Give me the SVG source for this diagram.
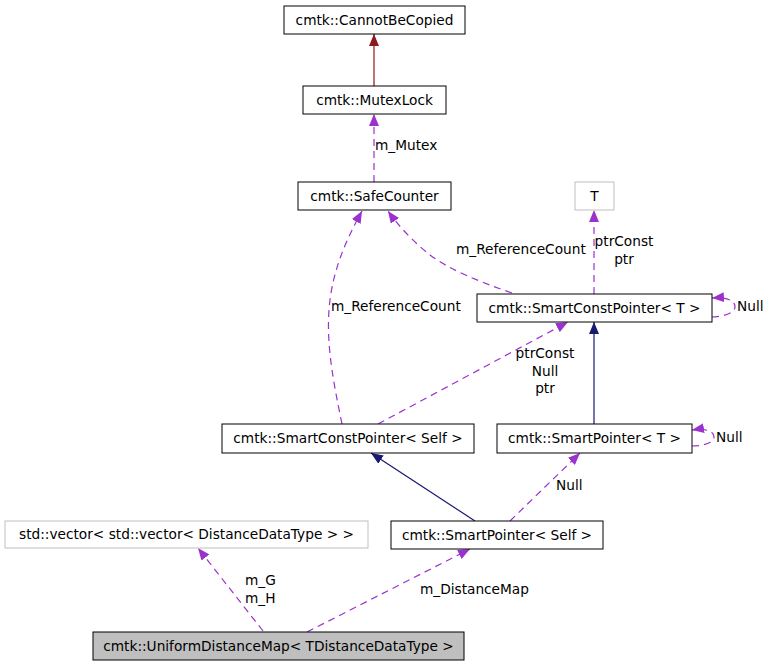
<svg xmlns="http://www.w3.org/2000/svg" width="767" height="667" viewBox="0 0 767 667">
<defs>
<style>
.box{fill:#ffffff;stroke:#000000;stroke-width:1}
.gbox{fill:#ffffff;stroke:#bfbfbf;stroke-width:1}
.hbox{fill:#bfbfbf;stroke:#000000;stroke-width:1}
text{font-family:"DejaVu Sans","Liberation Sans",sans-serif;font-size:13.7px;fill:#000000}
.c{text-anchor:middle}
.use{fill:none;stroke:#9a32cd;stroke-width:1.2;stroke-dasharray:7,5}
.pub{fill:none;stroke:#191970;stroke-width:1.2}
.priv{fill:none;stroke:#8b1a1a;stroke-width:1.2}
</style>
<marker id="aU" markerUnits="userSpaceOnUse" markerWidth="12" markerHeight="10" refX="12" refY="5" orient="auto"><path d="M0,0 L12,5 L0,10 z" fill="#9a32cd"/></marker>
<marker id="aB" markerUnits="userSpaceOnUse" markerWidth="12" markerHeight="10" refX="12" refY="5" orient="auto"><path d="M0,0 L12,5 L0,10 z" fill="#191970"/></marker>
<marker id="aR" markerUnits="userSpaceOnUse" markerWidth="12" markerHeight="10" refX="12" refY="5" orient="auto"><path d="M0,0 L12,5 L0,10 z" fill="#8b1a1a"/></marker>
</defs>
<rect width="767" height="667" fill="#ffffff"/>
<g id="edges">
<path class="priv" d="M374,86 L374,34" marker-end="url(#aR)"/>
<path class="use" d="M374,182 L374,114" marker-end="url(#aU)"/>
<text x="375" y="150">m_Mutex</text>
<path class="use" d="M342,424 C333,380 325,340 330,300 C334,268 346,240 362,211" marker-end="url(#aU)"/>
<text x="331" y="311">m_ReferenceCount</text>
<path class="use" d="M512,293 C480,282 450,270 430,255 C415,243 400,228 388,211" marker-end="url(#aU)"/>
<text x="456" y="254">m_ReferenceCount</text>
<path class="use" d="M594,294 L594,210" marker-end="url(#aU)"/>
<text class="c" x="624" y="246">ptrConst</text>
<text class="c" x="624" y="264">ptr</text>
<path class="use" d="M712,317 C722,317 735,313 735,307 C735,300 726,297 712,298" marker-end="url(#aU)"/>
<text x="737" y="311">Null</text>
<path class="use" d="M378,424 L568,322" marker-end="url(#aU)"/>
<text class="c" x="545" y="358">ptrConst</text>
<text class="c" x="545" y="376">Null</text>
<text class="c" x="545" y="393">ptr</text>
<path class="pub" d="M594,424 L594,322" marker-end="url(#aB)"/>
<path class="use" d="M692,446 C702,446 714,443 714,437 C714,431 705,428 692,430" marker-end="url(#aU)"/>
<text x="716" y="442">Null</text>
<path class="pub" d="M475,521 L371,453" marker-end="url(#aB)"/>
<path class="use" d="M510,521 L580,453" marker-end="url(#aU)"/>
<text x="556" y="490">Null</text>
<path class="use" d="M263,631 L198,548" marker-end="url(#aU)"/>
<text x="245" y="585">m_G</text>
<text x="245" y="603">m_H</text>
<path class="use" d="M307,632 L470,549" marker-end="url(#aU)"/>
<text x="420" y="594">m_DistanceMap</text>
</g>
<g id="CannotBeCopied"><rect class="box" x="284" y="6" width="181" height="28"/><text class="c" x="374.5" y="24.5">cmtk::CannotBeCopied</text></g>
<g id="MutexLock"><rect class="box" x="303" y="86" width="143" height="28"/><text class="c" x="374.5" y="104.5">cmtk::MutexLock</text></g>
<g id="SafeCounter"><rect class="box" x="298" y="182" width="153" height="28"/><text class="c" x="374.5" y="200.5">cmtk::SafeCounter</text></g>
<g id="T"><rect class="gbox" x="575" y="182" width="39" height="28"/><text class="c" x="594.5" y="200.5">T</text></g>
<g id="SmartConstPointerT"><rect class="box" x="477" y="294" width="235" height="28"/><text class="c" x="594.5" y="312.5">cmtk::SmartConstPointer&lt; T &gt;</text></g>
<g id="SmartConstPointerSelf"><rect class="box" x="222" y="424" width="252" height="29"/><text class="c" x="348" y="442.5">cmtk::SmartConstPointer&lt; Self &gt;</text></g>
<g id="SmartPointerT"><rect class="box" x="497" y="424" width="195" height="29"/><text class="c" x="594.5" y="442.5">cmtk::SmartPointer&lt; T &gt;</text></g>
<g id="Vector"><rect class="gbox" x="5" y="521" width="363" height="27"/><text class="c" x="186.5" y="539">std::vector&lt; std::vector&lt; DistanceDataType &gt; &gt;</text></g>
<g id="SmartPointerSelf"><rect class="box" x="391" y="521" width="212" height="28"/><text class="c" x="497" y="539.5">cmtk::SmartPointer&lt; Self &gt;</text></g>
<g id="UniformDistanceMap"><rect class="hbox" x="93" y="632" width="371" height="28"/><text class="c" x="278.5" y="650.5">cmtk::UniformDistanceMap&lt; TDistanceDataType &gt;</text></g>
</svg>
